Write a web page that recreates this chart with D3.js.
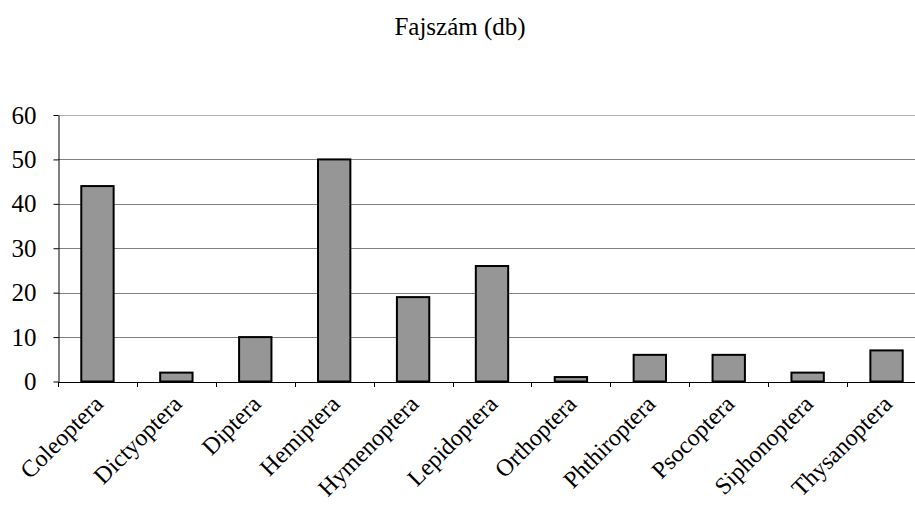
<!DOCTYPE html>
<html>
<head>
<meta charset="utf-8">
<script src="https://cdn.jsdelivr.net/npm/d3@7"></script>
<style>
  html, body { margin: 0; padding: 0; background: #fff; }
  svg { display: block; }
  text { font-family: "Liberation Serif", "Times New Roman", serif; fill: #000; }
</style>
</head>
<body>
<svg id="chart" width="915" height="507"></svg>
<script>
const categories = ["Coleoptera", "Dictyoptera", "Diptera", "Hemiptera", "Hymenoptera", "Lepidoptera", "Orthoptera", "Phthiroptera", "Psocoptera", "Siphonoptera", "Thysanoptera"];
const speciesCount = [44, 2, 10, 50, 19, 26, 1, 6, 6, 2, 7];
const yTicks = [0, 10, 20, 30, 40, 50, 60];
const title = "Fajszám (db)";

const svg = d3.select("#chart");
const plotLeft = 58, plotRight = 926, plotTop = 115, plotBottom = 381.5;

const x = d3.scaleBand().domain(categories).range([plotLeft, plotRight]).paddingInner(0.59).paddingOuter(0.295);
const xEdges = d3.scaleLinear().domain([0, categories.length]).range([plotLeft, plotRight]);
const y = d3.scaleLinear().domain([0, 60]).range([plotBottom, plotTop]);

svg.append("text")
  .attr("x", 460).attr("y", 35)
  .attr("text-anchor", "middle")
  .style("font-size", "25px")
  .text(title);

// horizontal gridlines
svg.append("g").selectAll("line")
  .data(yTicks.filter(d => d > 0))
  .join("line")
  .attr("x1", plotLeft).attr("x2", 915)
  .attr("y1", d => Math.round(y(d)) + 0.5).attr("y2", d => Math.round(y(d)) + 0.5)
  .attr("stroke", d => d === 60 ? "#b0b0b0" : "#808080")
  .attr("stroke-width", 1);

// y axis
const yAxis = svg.append("g")
  .attr("transform", `translate(${plotLeft + 0.5},0)`)
  .call(d3.axisLeft(y).tickValues(yTicks).tickSize(5).tickPadding(17).tickSizeOuter(0));
yAxis.select(".domain").attr("stroke", "#000");
yAxis.selectAll(".tick line").attr("stroke", "#000");
yAxis.selectAll(".tick text")
  .style("font-size", "25px")
  .style("font-family", "'Liberation Serif', 'Times New Roman', serif")
  .attr("fill", "#000");

// bars
svg.append("g").selectAll("rect")
  .data(categories.map((c, i) => ({ c, v: speciesCount[i] })))
  .join("rect")
  .attr("x", d => x(d.c))
  .attr("width", x.bandwidth())
  .attr("y", d => y(d.v))
  .attr("height", d => y(0) - y(d.v))
  .attr("fill", "#969696")
  .attr("stroke", "#000")
  .attr("stroke-width", 2);

// x axis baseline and category tick marks
const xAxisG = svg.append("g");
xAxisG.append("line")
  .attr("x1", plotLeft).attr("x2", 915)
  .attr("y1", Math.round(plotBottom) + 0.5).attr("y2", Math.round(plotBottom) + 0.5)
  .attr("stroke", "#000");
xAxisG.selectAll("line.tk")
  .data(d3.range(0, categories.length + 1))
  .join("line")
  .attr("class", "tk")
  .attr("x1", d => Math.round(xEdges(d)) + 0.5).attr("x2", d => Math.round(xEdges(d)) + 0.5)
  .attr("y1", Math.round(plotBottom)).attr("y2", Math.round(plotBottom) + 5)
  .attr("stroke", "#000");

// rotated category labels
svg.append("g").selectAll("text")
  .data(categories)
  .join("text")
  .attr("transform", d => `translate(${x(d) + x.bandwidth() / 2 + 7},${plotBottom + 24}) rotate(-45)`)
  .attr("text-anchor", "end")
  .style("font-size", "24px")
  .text(d => d);
</script>
</body>
</html>
